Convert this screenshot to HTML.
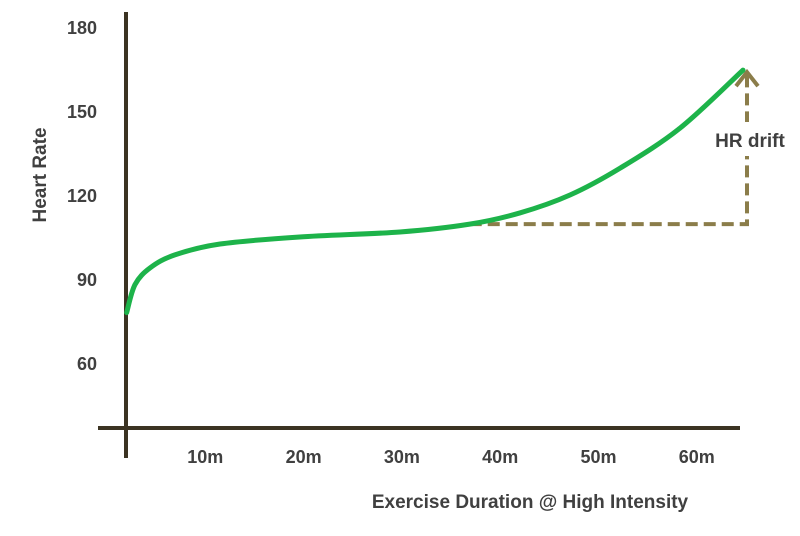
<!DOCTYPE html>
<html><head><meta charset="utf-8"><style>
body{margin:0;background:#fff}
svg text{font-family:"Liberation Sans",sans-serif;font-weight:bold;fill:#404040}
</style></head><body>
<svg width="800" height="531" viewBox="0 0 800 531">
<g id="yticks"></g>
<g id="xticks"></g>
<line x1="98" y1="428" x2="740" y2="428" stroke="#3b3322" stroke-width="4"/>
<line x1="126" y1="12" x2="126" y2="458" stroke="#3b3322" stroke-width="4"/>
<path id="drift" fill="none" stroke="#8b7d4a" stroke-width="4" stroke-dasharray="12,6"/>
<path id="arrow" fill="none" stroke="#8b7d4a" stroke-width="4"/>
<path id="curve" fill="none" stroke="#1db34a" stroke-width="5" stroke-linecap="round"/>
<rect x="709" y="122" width="84" height="34" fill="#fff"/>
<text x="750" y="147" text-anchor="middle" font-size="19">HR drift</text>
<text x="530" y="508" text-anchor="middle" font-size="19">Exercise Duration @ High Intensity</text>
<text transform="translate(46,175) rotate(-90)" text-anchor="middle" font-size="19">Heart Rate</text>
</svg>
<script>
const yTicks=[60,90,120,150,180];
const xTicks=[10,20,30,40,50,60];
const xTickLabels=["10m","20m","30m","40m","50m","60m"];
const minutes=[2.0,2.85,4.4,6.9,11.5,19.6,29.8,36.9,42,47.1,52.2,58.3,64.7];
const heartRate=[78,88,94,98.6,102.5,105,106.8,109.6,113.6,120,129.6,143.9,164.6];
const driftStart=36.9, driftBase=109.6;
const X=m=>107+9.83*m, Y=v=>363-(v-60)*2.8;
const ns="http://www.w3.org/2000/svg";
const yg=document.getElementById('yticks');
yTicks.forEach(v=>{const t=document.createElementNS(ns,'text');
t.setAttribute('x',97);t.setAttribute('y',Y(v)+7);t.setAttribute('text-anchor','end');t.setAttribute('font-size','18');


t.textContent=v;yg.appendChild(t);});
const xg=document.getElementById('xticks');
xTicks.forEach((m,i)=>{const t=document.createElementNS(ns,'text');
t.setAttribute('x',X(m));t.setAttribute('y',463);t.setAttribute('text-anchor','middle');t.setAttribute('font-size','18');


t.textContent=xTickLabels[i];xg.appendChild(t);});
const P=minutes.map((m,i)=>[X(m),Y(heartRate[i])]);
let d=`M${P[0][0]},${P[0][1]}`;
for(let i=0;i<P.length-1;i++){const p0=P[i-1]||P[i],p1=P[i],p2=P[i+1],p3=P[i+2]||p2;
d+=` C${p1[0]+(p2[0]-p0[0])/6},${p1[1]+(p2[1]-p0[1])/6} ${p2[0]-(p3[0]-p1[0])/6},${p2[1]-(p3[1]-p1[1])/6} ${p2[0]},${p2[1]}`;}
document.getElementById('curve').setAttribute('d',d);
const end=P[P.length-1];const ax=end[0]+4,by=Y(driftBase);
document.getElementById('drift').setAttribute('d',`M${X(driftStart)},${by} H${ax} V${end[1]+4}`);
document.getElementById('arrow').setAttribute('d',`M${ax-11},${end[1]+16} L${ax},${end[1]+2} L${ax+11},${end[1]+16}`);
</script>
</body></html>
